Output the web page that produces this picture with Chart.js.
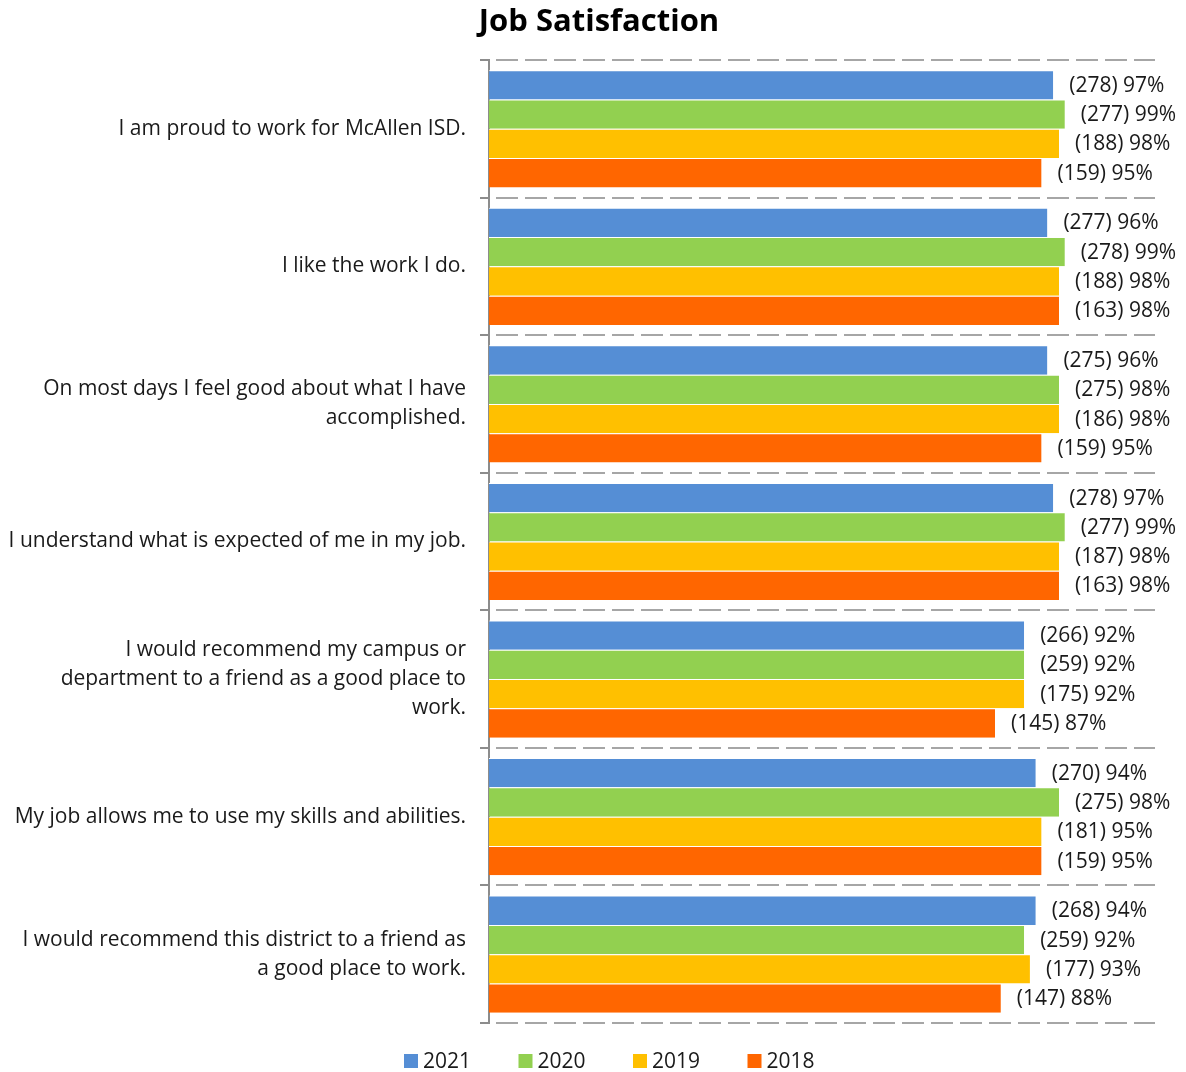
<!DOCTYPE html>
<html>
<head>
<meta charset="utf-8">
<script src="https://cdn.jsdelivr.net/npm/chart.js@4/dist/chart.umd.min.js"></script>
<style>
  html, body { margin: 0; padding: 0; background: #fff; }
  #wrap { width: 1186px; height: 1072px; }
</style>
</head>
<body>
<div id="wrap"><canvas id="c" width="1186" height="1072"></canvas></div>
<script>
// Survey statements (wrapped the way they appear on the axis)
const categories = [
  "I am proud to work for McAllen ISD.",
  "I like the work I do.",
  ["On most days I feel good about what I have", "accomplished."],
  "I understand what is expected of me in my job.",
  ["I would recommend my campus or", "department to a friend as a good place to", "work."],
  "My job allows me to use my skills and abilities.",
  ["I would recommend this district to a friend as", "a good place to work."]
];

const chartTitle = "Job Satisfaction";
const seriesNames = ["2021", "2020", "2019", "2018"];

// Percent agreeing, per year
const pct2021 = [97, 96, 96, 97, 92, 94, 94];
const pct2020 = [99, 99, 98, 99, 92, 98, 92];
const pct2019 = [98, 98, 98, 98, 92, 95, 93];
const pct2018 = [95, 98, 95, 98, 87, 95, 88];

// Number of respondents agreeing, per year
const n2021 = [278, 277, 275, 278, 266, 270, 268];
const n2020 = [277, 278, 275, 277, 259, 275, 259];
const n2019 = [188, 188, 186, 187, 175, 181, 177];
const n2018 = [159, 163, 159, 163, 145, 159, 147];

const colors = ["#558ED5", "#92D050", "#FFC000", "#FF6600"];
const pctSeries = [pct2021, pct2020, pct2019, pct2018];
const countSeries = [n2021, n2020, n2019, n2018];

const FONT = "'Open Sans', Lato, sans-serif";

// Title centred over the plot area
const titleText = {
  id: "titleText",
  afterDraw(chart) {
    const ctx = chart.ctx;
    ctx.save();
    ctx.font = "bold 31px " + FONT;
    ctx.fillStyle = "#000";
    ctx.textAlign = "center";
    ctx.textBaseline = "middle";
    ctx.fillText(chartTitle, 599, 22);
    ctx.restore();
  }
};

// "(count) pct%" labels at the end of each bar
const valueLabels = {
  id: "valueLabels",
  afterDatasetsDraw(chart) {
    const ctx = chart.ctx;
    ctx.save();
    ctx.font = "21px " + FONT;
    ctx.fillStyle = "#1a1a1a";
    ctx.textAlign = "left";
    ctx.textBaseline = "middle";
    chart.data.datasets.forEach((ds, i) => {
      const meta = chart.getDatasetMeta(i);
      meta.data.forEach((bar, j) => {
        const txt = "(" + countSeries[i][j] + ") " + ds.data[j] + "%";
        ctx.fillText(txt, bar.x + 16, bar.y + 1);
      });
    });
    ctx.restore();
  }
};

// Legend row under the plot
const bottomLegend = {
  id: "bottomLegend",
  afterDraw(chart) {
    const ctx = chart.ctx;
    ctx.save();
    ctx.font = "21px " + FONT;
    ctx.textBaseline = "middle";
    ctx.textAlign = "left";
    const y = 1061;
    let x = 404;
    chart.data.datasets.forEach((ds) => {
      ctx.fillStyle = ds.backgroundColor;
      ctx.fillRect(x, y - 7, 14, 14);
      ctx.fillStyle = "#1a1a1a";
      ctx.fillText(ds.label, x + 19, y + 1);
      x += 114.5;
    });
    ctx.restore();
  }
};

new Chart(document.getElementById("c"), {
  type: "bar",
  data: {
    labels: categories,
    datasets: seriesNames.map((name, i) => ({
      label: name,
      data: pctSeries[i],
      backgroundColor: colors[i],
      borderColor: "#ffffff",
      borderWidth: { top: 1, right: 0, bottom: 0, left: 0 },
      borderSkipped: false,
      categoryPercentage: 0.852,
      barPercentage: 1.0
    }))
  },
  options: {
    indexAxis: "y",
    responsive: false,
    animation: false,
    devicePixelRatio: 1,
    layout: { padding: { left: 0, right: 31, top: 60, bottom: 49 } },
    plugins: {
      legend: { display: false },
      tooltip: { enabled: false },
      title: { display: false }
    },
    scales: {
      x: {
        display: false,
        min: 0,
        max: 114.5
      },
      y: {
        afterFit(scale) { scale.width = 489; },
        grid: {
          offset: true,
          color: "#A6A6A6",
          lineWidth: 2,
          drawTicks: true,
          tickLength: 9,
          tickColor: "#8C8C8C",
          tickWidth: 2
        },
        border: {
          display: true,
          color: "#8C8C8C",
          width: 2,
          dash: [22, 7],
          dashOffset: 23
        },
        ticks: {
          color: "#1a1a1a",
          padding: 14,
          font: { family: FONT, size: 21, lineHeight: 1.38 }
        }
      }
    }
  },
  plugins: [titleText, valueLabels, bottomLegend]
});
</script>
</body>
</html>
